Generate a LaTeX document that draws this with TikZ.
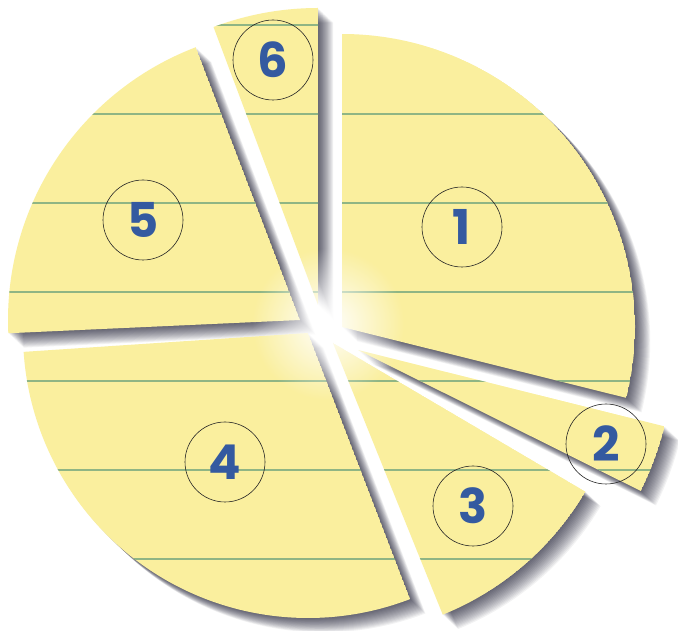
\documentclass[tikz,border=0pt]{standalone}
\usepackage{fontspec}
\newfontfamily\numfont{Poppins}
\usetikzlibrary{fadings}
\definecolor{paper}{RGB}{250,239,158}
\definecolor{rulecol}{RGB}{125,172,128}
\definecolor{numblue}{RGB}{52,90,160}
\tikzfading[name=glowfade, inner color=transparent!0, outer color=transparent!100]
\tikzset{
  numcircle/.style={draw=black!85, circle, minimum size=80, inner sep=0pt, line width=0.6pt,
    font=\numfont\bfseries\fontsize{48}{48}\selectfont, text=numblue},
  ruleline/.style={rulecol, line width=1.3pt, opacity=0.85},
}
\newcommand\slicepath[5]{(#1,#2) -- ++(#4:#3) arc[start angle=#4, end angle=#5, radius=#3] -- cycle}
\begin{document}
\begin{tikzpicture}[x=1pt,y=1pt]
\useasboundingbox (0,0) rectangle (678,630);
\fill[white] (0,0) rectangle (678,630);
% slices: apex x / apex y / radius / start / end
\def\slices{342/303/293/-14/90, 358/280/316/-26.5/-14, 333/287/293/-68/-30.5, 308/297/285/183.8/291, 300/310/292/110.9/182.6, 318/325/297/90/110.6}
% soft shadows: stacked offset copies
\foreach \ax/\ay/\r/\a/\b in \slices {
  \foreach \k in {1,...,16}{
    \fill[black!90!blue, opacity=0.05, shift={(0.95*\k,-0.9*\k)}] \slicepath{\ax}{\ay}{\r}{\a}{\b};
  }
}
% paper slices
\foreach \ax/\ay/\r/\a/\b in \slices {
  \begin{scope}
    \clip \slicepath{\ax}{\ay}{\r}{\a}{\b};
    \fill[paper] \slicepath{\ax}{\ay}{\r}{\a}{\b};
    \foreach \yy in {605,516,427,338,249,160,71}{
      \draw[ruleline] (0,\yy) -- (678,\yy);
    }
  \end{scope}
}
% white glow at the centre
\fill[white, path fading=glowfade] (328,306) circle (76);
% numbered circles
\node[numcircle] (n1) at (462,403) {1};
\node[numcircle] (n2) at (606,186) {2};
\node[numcircle] (n3) at (473,124) {3};
\node[numcircle] (n4) at (225,168) {4};
\node[numcircle] (n5) at (143,410) {5};
\node[numcircle] (n6) at (273,570) {6};
\end{tikzpicture}
\end{document}
